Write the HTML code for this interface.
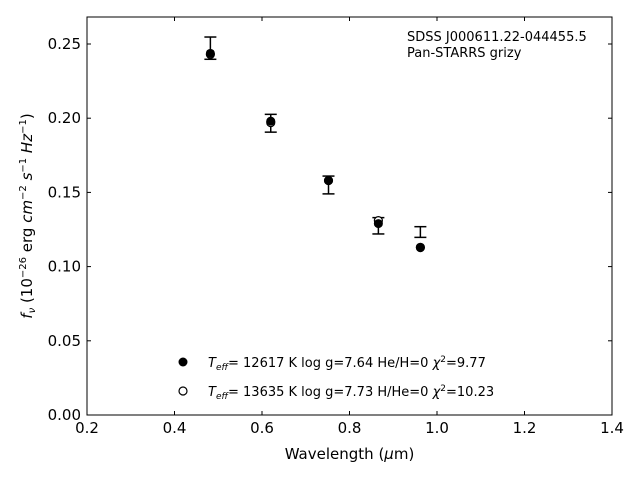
<!DOCTYPE html>
<html><head><meta charset="utf-8"><style>
body{margin:0;background:#fff}
svg{display:block;font-family:"DejaVu Sans","Liberation Sans",sans-serif}
</style></head><body>
<svg id="chart" width="640" height="480" viewBox="0 0 640 480">
<rect x="0" y="0" width="640" height="480" fill="#fff"/>
<g id="marks"></g>
<rect x="87" y="17" width="525" height="398" fill="none" stroke="#000" stroke-width="1"/>
<g id="ticks"></g>
<text x="349.5" y="459" font-size="15" text-anchor="middle">Wavelength (<tspan font-style="italic">μ</tspan>m)</text>
<text transform="translate(32,216) rotate(-90)" font-size="15" text-anchor="middle"><tspan font-style="italic">f</tspan><tspan font-style="italic" font-size="10" dy="3">ν</tspan><tspan dy="-3"> (10</tspan><tspan font-size="10" dy="-6">−26</tspan><tspan dy="6"> erg </tspan><tspan font-style="italic">cm</tspan><tspan font-size="10" dy="-6">−2</tspan><tspan dy="6"> </tspan><tspan font-style="italic">s</tspan><tspan font-size="10" dy="-6">−1</tspan><tspan dy="6"> </tspan><tspan font-style="italic">Hz</tspan><tspan font-size="10" dy="-6">−1</tspan><tspan dy="6">)</tspan></text>
<text x="407" y="41" font-size="13">SDSS J000611.22-044455.5</text>
<text x="407" y="57" font-size="13">Pan-STARRS grizy</text>
<g>
<circle cx="183" cy="362" r="4.5" fill="#000"/>
<text x="208" y="367" font-size="13"><tspan font-style="italic">T</tspan><tspan font-style="italic" font-size="9" dy="3">eff</tspan><tspan dy="-3">= 12617 K  log g=7.64  He/H=0  </tspan><tspan font-style="italic">χ</tspan><tspan font-size="9" dy="-5">2</tspan><tspan dy="5">=9.77</tspan></text>
<circle cx="183" cy="391" r="4" fill="#fff" stroke="#000" stroke-width="1.2"/>
<text x="208" y="396" font-size="13"><tspan font-style="italic">T</tspan><tspan font-style="italic" font-size="9" dy="3">eff</tspan><tspan dy="-3">= 13635 K  log g=7.73  H/He=0  </tspan><tspan font-style="italic">χ</tspan><tspan font-size="9" dy="-5">2</tspan><tspan dy="5">=10.23</tspan></text>
</g>
</svg>
<script>
const wavelengths=[0.482,0.620,0.752,0.866,0.962];
const observed=[0.2472,0.1966,0.1550,0.1275,0.1233];
const errors=[0.0075,0.0060,0.0060,0.0055,0.0036];
const modelHeH=[0.2437,0.1980,0.1580,0.1290,0.1127];
const modelHHe=[0.2430,0.1970,0.1580,0.1310,0.1130];
const xTicks=[0.2,0.4,0.6,0.8,1.0,1.2,1.4];
const xTickLabels=["0.2","0.4","0.6","0.8","1.0","1.2","1.4"];
const yTicks=[0,0.05,0.10,0.15,0.20,0.25];
const yTickLabels=["0.00","0.05","0.10","0.15","0.20","0.25"];
const NS="http://www.w3.org/2000/svg";
const x=v=>87+(v-0.2)/1.2*525;
const y=v=>415-v/0.05*74.2;
function mk(tag,attrs,parent){const e=document.createElementNS(NS,tag);for(const k in attrs)e.setAttribute(k,attrs[k]);parent.appendChild(e);return e;}
const marks=document.getElementById('marks');
const ticks=document.getElementById('ticks');
wavelengths.forEach((w,i)=>{
  const cx=x(w),t=y(observed[i]+errors[i]),b=y(observed[i]-errors[i]);
  const g=mk('g',{stroke:'#000','stroke-width':1.5},marks);
  
  
  mk('line',{x1:cx,x2:cx,y1:t,y2:b},g);
  mk('line',{x1:cx-6,x2:cx+6,y1:t,y2:t},g);
  mk('line',{x1:cx-6,x2:cx+6,y1:b,y2:b},g);
  const o=mk('circle',{cx:cx,cy:y(modelHHe[i]),r:4,fill:'#fff',stroke:'#000','stroke-width':1.2},marks);
  
  
  const f=mk('circle',{cx:cx,cy:y(modelHeH[i]),r:4.5,fill:'#000'},marks);
  
  
});
xTicks.forEach((v,i)=>{
  const px=x(v);
  mk('line',{x1:px,x2:px,y1:415,y2:411,stroke:'#000'},ticks);
  mk('line',{x1:px,x2:px,y1:17,y2:21,stroke:'#000'},ticks);
  const t=mk('text',{x:px,y:433,'font-size':15,'text-anchor':'middle'},ticks);
  t.textContent=xTickLabels[i];
  
  
});
yTicks.forEach((v,i)=>{
  const py=y(v);
  mk('line',{x1:87,x2:91,y1:py,y2:py,stroke:'#000'},ticks);
  mk('line',{x1:612,x2:608,y1:py,y2:py,stroke:'#000'},ticks);
  const t=mk('text',{x:81,y:py+5,'font-size':15,'text-anchor':'end'},ticks);
  t.textContent=yTickLabels[i];
  
  
});
</script>
</body></html>
